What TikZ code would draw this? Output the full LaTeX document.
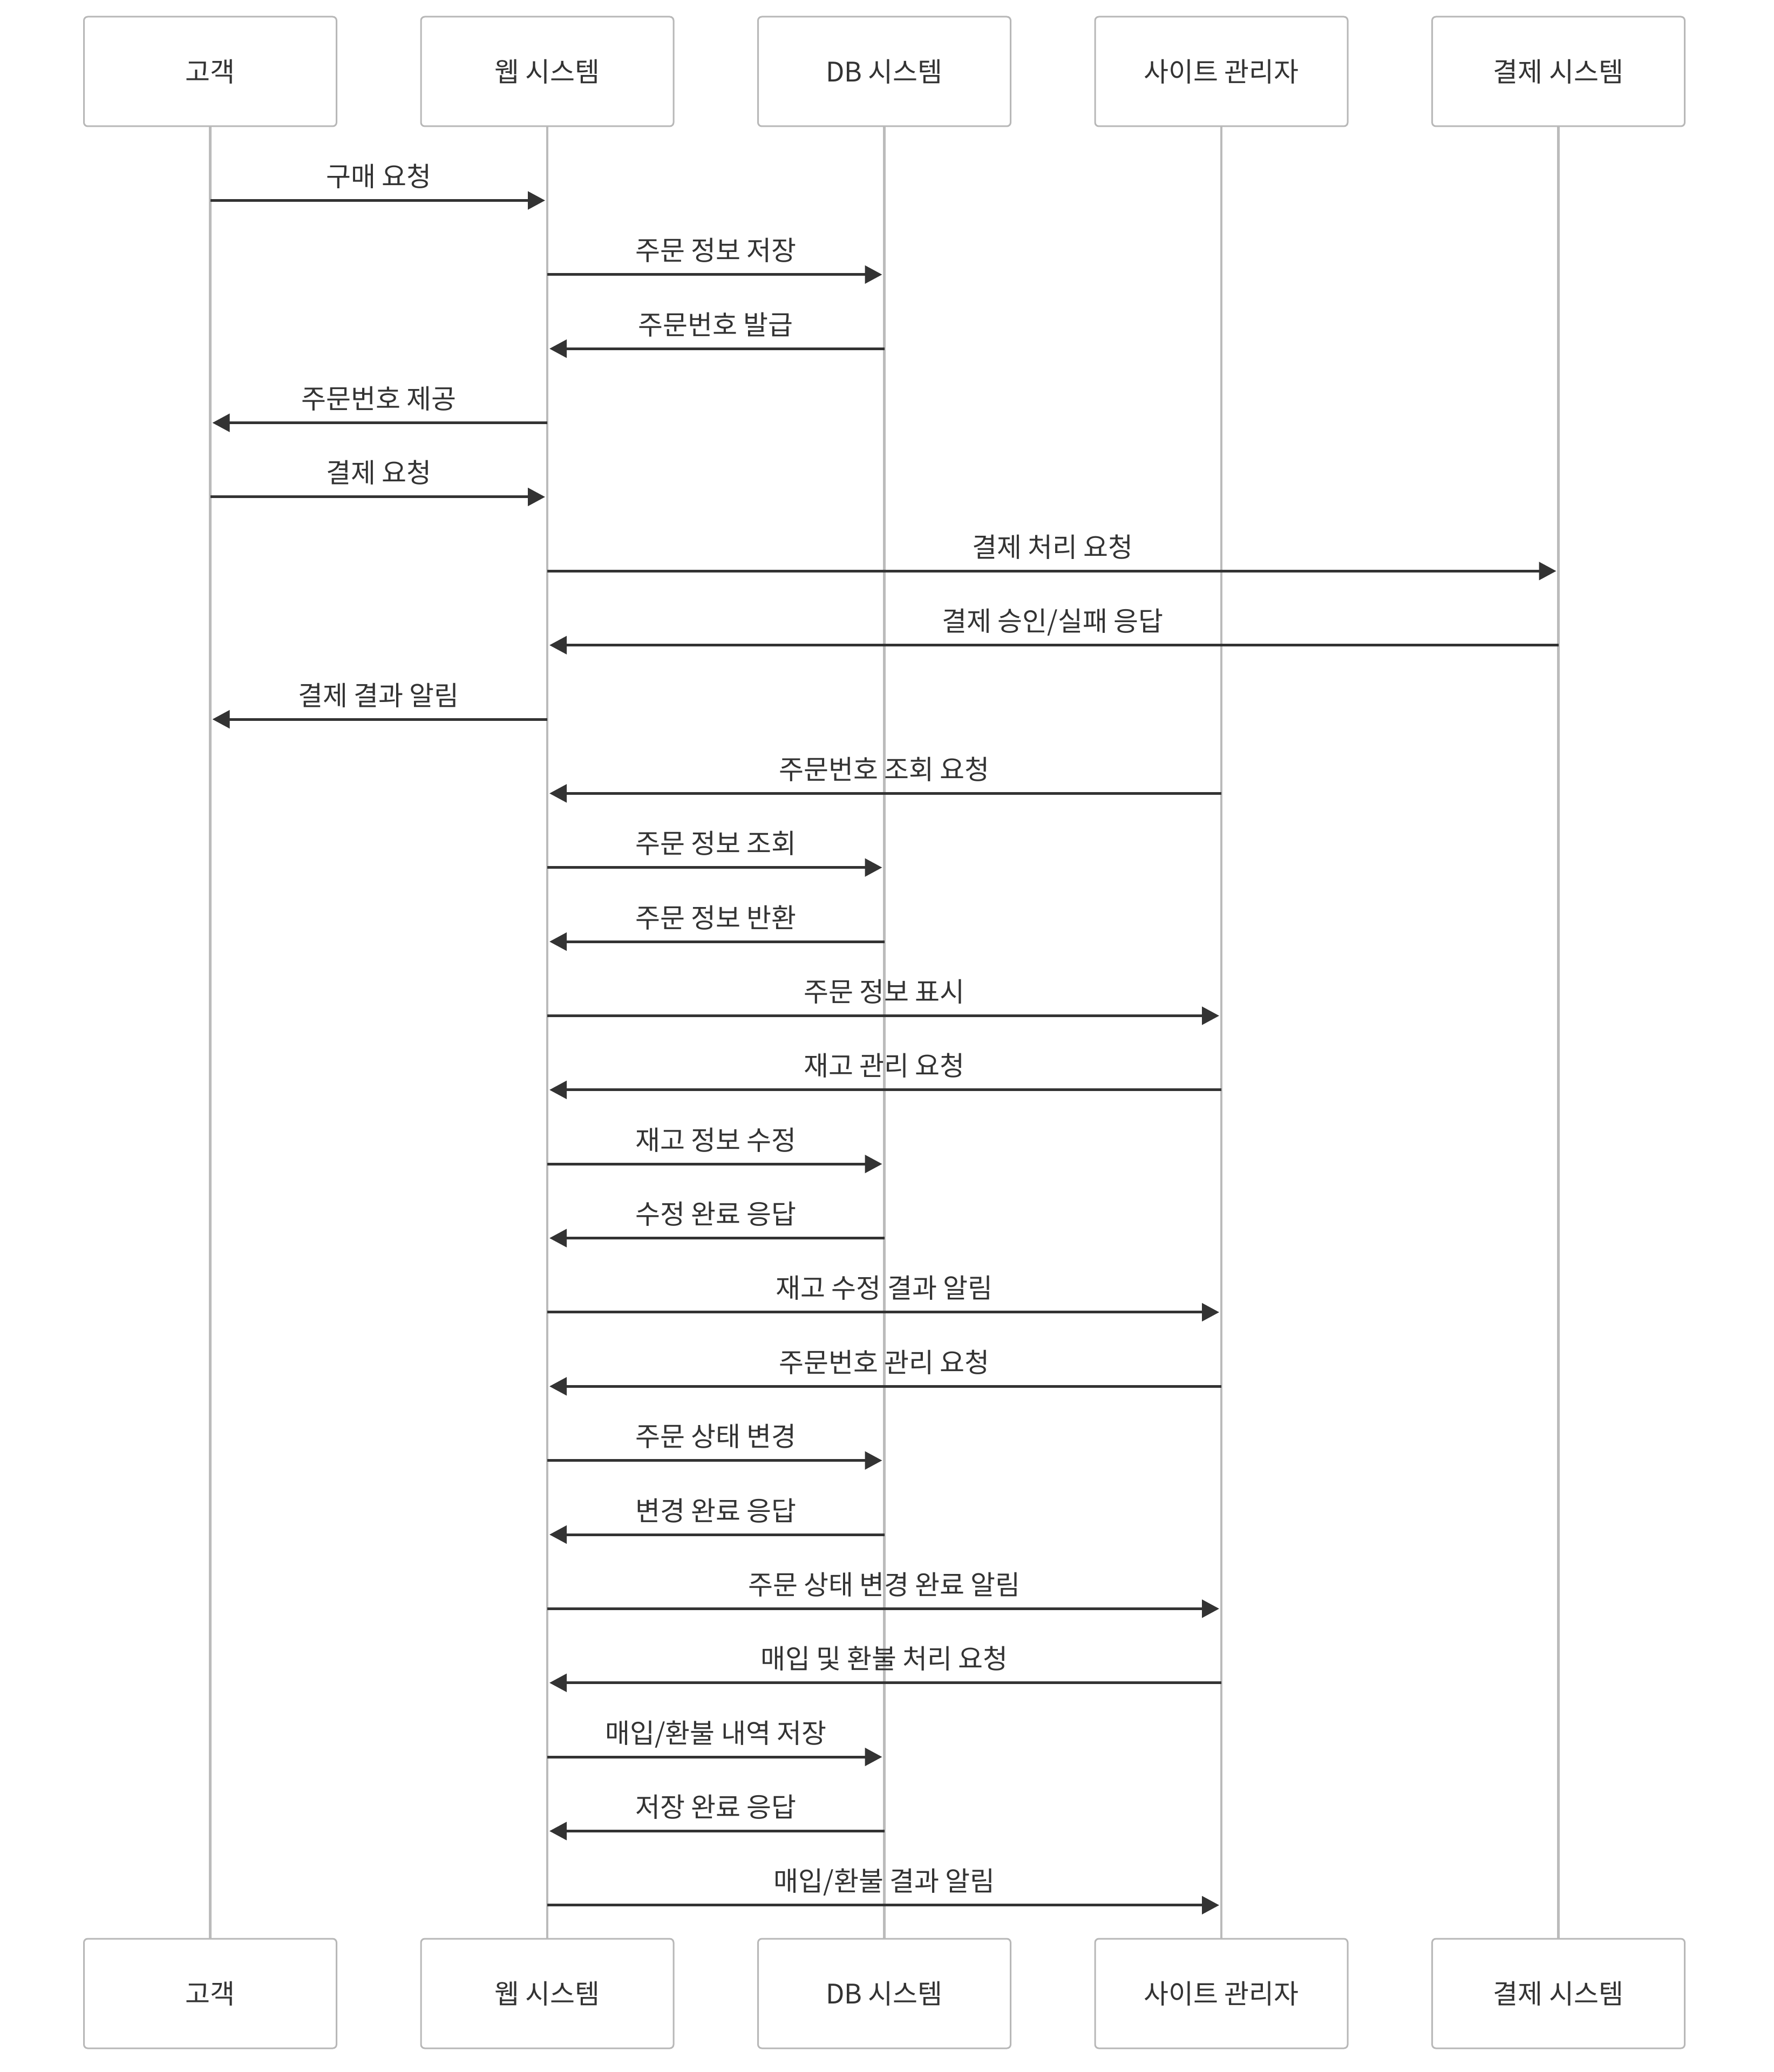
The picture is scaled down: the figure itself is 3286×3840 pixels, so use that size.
\documentclass[tikz,border=0pt]{standalone}
\usepackage{fontspec}
\setmainfont{Noto Sans CJK KR}
\usetikzlibrary{arrows.meta,calc}
\definecolor{txt}{HTML}{333333}
\definecolor{lline}{HTML}{BBBBBB}
\definecolor{bborder}{HTML}{B8B8B8}
\def\xC{389.5}
\def\xW{1014}
\def\xD{1638.5}
\def\xA{2263}
\def\xP{2887.5}
\newcommand\msgarrow[4]{%
  \pgfmathsetmacro\yy{371.5+137.36*#1}%
  \pgfmathsetmacro\xs{\csname x#2\endcsname}%
  \pgfmathsetmacro\xt{\csname x#3\endcsname}%
  \pgfmathsetmacro\xe{\xt-4*sign(\xt-\xs)}%
  \pgfmathsetmacro\xm{(\xs+\xt)/2}%
  \pgfmathsetmacro\yl{\yy-26}%
  \coordinate (m#1s) at (\xs,\yy);
  \coordinate (m#1e) at (\xe,\yy);
  \node[lbl] (l#1) at (\xm,\yl) {#4};
  \draw[msg] (m#1s) -- (m#1e);
}
\begin{document}
\begin{tikzpicture}[x=0.25pt,y=-0.25pt,
  actor/.style={draw=bborder, line width=0.75pt, fill=white, rounded corners=1.75pt,
    minimum width=117pt, minimum height=50.75pt, inner sep=0pt, text=txt,
    font=\fontsize{12.5}{15}\selectfont},
  lifeline/.style={draw=lline, line width=1.1pt},
  msg/.style={draw=txt, line width=1.25pt, -{Triangle[length=8pt,width=8.25pt]}},
  lbl/.style={anchor=base, inner sep=0pt, text=txt, font=\fontsize{12.5}{15}\selectfont}]
\useasboundingbox (0,0) rectangle (3286,3840);
\fill[white] (0,0) rectangle (3286,3840);
% lifelines
\foreach \n in {C,W,D,A,P}{
  \draw[lifeline] (\csname x\n\endcsname,234) -- (\csname x\n\endcsname,3593);
}
% actors top
\node[actor] (Ct) at (\xC,132.5) {고객};
\node[actor] (Wt) at (\xW,132.5) {웹 시스템};
\node[actor] (Dt) at (\xD,132.5) {DB 시스템};
\node[actor] (At) at (\xA,132.5) {사이트 관리자};
\node[actor] (Pt) at (\xP,132.5) {결제 시스템};
% actors bottom
\node[actor] (Cb) at (\xC,3694.5) {고객};
\node[actor] (Wb) at (\xW,3694.5) {웹 시스템};
\node[actor] (Db) at (\xD,3694.5) {DB 시스템};
\node[actor] (Ab) at (\xA,3694.5) {사이트 관리자};
\node[actor] (Pb) at (\xP,3694.5) {결제 시스템};
% messages
\msgarrow{0}{C}{W}{구매 요청}
\msgarrow{1}{W}{D}{주문 정보 저장}
\msgarrow{2}{D}{W}{주문번호 발급}
\msgarrow{3}{W}{C}{주문번호 제공}
\msgarrow{4}{C}{W}{결제 요청}
\msgarrow{5}{W}{P}{결제 처리 요청}
\msgarrow{6}{P}{W}{결제 승인/실패 응답}
\msgarrow{7}{W}{C}{결제 결과 알림}
\msgarrow{8}{A}{W}{주문번호 조회 요청}
\msgarrow{9}{W}{D}{주문 정보 조회}
\msgarrow{10}{D}{W}{주문 정보 반환}
\msgarrow{11}{W}{A}{주문 정보 표시}
\msgarrow{12}{A}{W}{재고 관리 요청}
\msgarrow{13}{W}{D}{재고 정보 수정}
\msgarrow{14}{D}{W}{수정 완료 응답}
\msgarrow{15}{W}{A}{재고 수정 결과 알림}
\msgarrow{16}{A}{W}{주문번호 관리 요청}
\msgarrow{17}{W}{D}{주문 상태 변경}
\msgarrow{18}{D}{W}{변경 완료 응답}
\msgarrow{19}{W}{A}{주문 상태 변경 완료 알림}
\msgarrow{20}{A}{W}{매입 및 환불 처리 요청}
\msgarrow{21}{W}{D}{매입/환불 내역 저장}
\msgarrow{22}{D}{W}{저장 완료 응답}
\msgarrow{23}{W}{A}{매입/환불 결과 알림}
\end{tikzpicture}
\end{document}
